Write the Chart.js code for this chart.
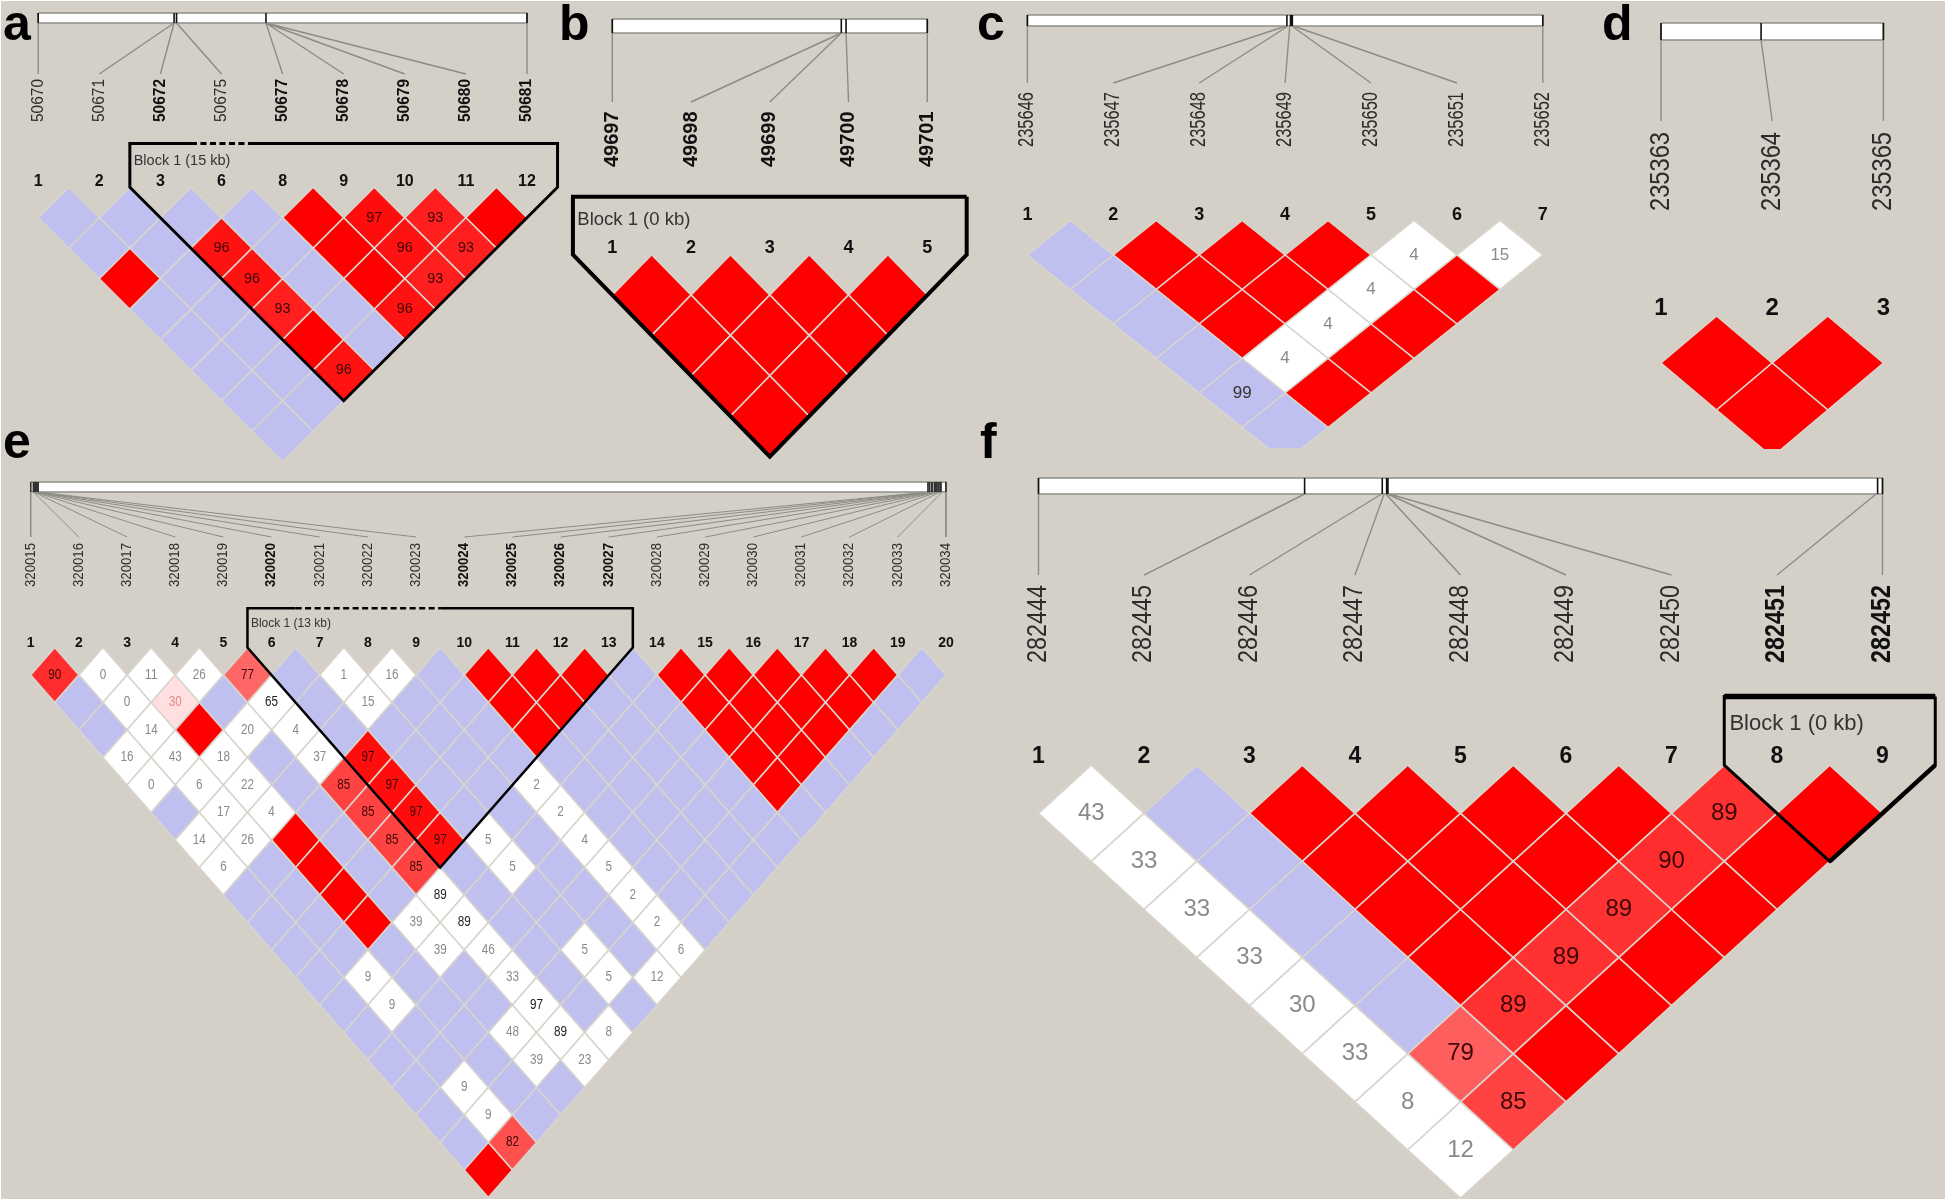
<!DOCTYPE html>
<html><head><meta charset="utf-8">
<style>html,body{margin:0;padding:0;background:#fff;overflow:hidden}canvas{display:block}</style>
<script src="https://cdn.jsdelivr.net/npm/chart.js@4"></script>
</head><body><canvas id="c" width="1946" height="1203"></canvas>
<script>
// ---------- DATA: marker names, marker numbers, physical positions, D' rows, LD class rows ----------
// classes: b = D'=1 low LOD (blue), r = D'=1 high LOD (red), w = low D' low LOD (white), s = D'<1 high LOD (shaded red)
const a_names=['50670','50671','50672','50675','50677','50678','50679','50680','50681'];
const a_bold=['50672','50677','50678','50679','50680','50681'];
const a_numbers=['1','2','3','6','8','9','10','11','12'];
const a_positions=[0,.278,.278,.283,.466,.466,.466,.466,1];
const a_ticks=[0,.278,.283,.466,1];
const a_dprime=[[100,100,100,100,100,97,93,100],[100,100,96,100,100,96,93],[100,100,96,100,100,93],[100,100,93,100,96],[100,100,100,100],[100,100,96],[100,100],[100]];
const a_class=['bbbbrssr','bbsbrss','rbsbrs','bbsbs','bbrb','bbs','bb','b'];
const a_block={start:1.5,end:8.5,dash:[2.5,3.5],label:'Block 1 (15 kb)'};

const b_names=['49697','49698','49699','49700','49701'];
const b_bold=['49697','49698','49699','49700','49701'];
const b_numbers=['1','2','3','4','5'];
const b_positions=[0,.727,.727,.742,1];
const b_ticks=[0,.727,.742,1];
const b_dprime=[[100,100,100,100],[100,100,100],[100,100],[100]];
const b_class=['rrrr','rrr','rr','r'];
const b_block={start:-.5,end:4.5,label:'Block 1 (0 kb)'};

const c_names=['235646','235647','235648','235649','235650','235651','235652'];
const c_bold=[];
const c_numbers=['1','2','3','4','5','6','7'];
const c_positions=[0,.502,.506,.509,.513,.516,1];
const c_ticks=[0,.5035,.5105,.5125,.514,1];
const c_dprime=[[100,100,100,100,4,15],[100,100,100,4,100],[100,100,4,100],[100,4,100],[99,100],[100]];
const c_class=['brrrww','brrwr','brwr','bwr','br','b'];

const d_names=['235363','235364','235365'];
const d_bold=[];
const d_numbers=['1','2','3'];
const d_positions=[0,.45,1];
const d_ticks=[0,.45,1];
const d_dprime=[[100,100],[100]];
const d_class=['rr','r'];

const e_names=['320015','320016','320017','320018','320019','320020','320021','320022','320023','320024','320025','320026','320027','320028','320029','320030','320031','320032','320033','320034'];
const e_bold=['320020','320024','320025','320026','320027'];
const e_numbers=['1','2','3','4','5','6','7','8','9','10','11','12','13','14','15','16','17','18','19','20'];
const e_positions=[0,.0029,.0035,.004,.0048,.0055,.0062,.007,.0083,.9804,.982,.984,.9855,.9875,.9885,.99,.9915,.9935,.996,1];
const e_ticks=[0,.0029,.0035,.004,.0048,.0055,.0062,.007,.0083,.9804,.982,.984,.9855,.9875,.9885,.99,.9915,.9935,.9946,1];
const e_dprime=[
[90,0,11,26,77,100,1,16,100,100,100,100,100,100,100,100,100,100,100],
[100,0,30,100,65,100,15,100,100,100,100,100,100,100,100,100,100,100],
[100,14,100,20,4,100,100,100,100,100,100,100,100,100,100,100,100],
[16,43,18,100,37,97,100,100,100,100,100,100,100,100,100,100],
[0,6,22,100,85,97,100,100,2,100,100,100,100,100,100],
[100,17,4,100,85,97,100,100,2,100,100,100,100,100],
[14,26,100,100,85,97,5,100,4,100,100,100,100],
[6,100,100,100,85,100,5,100,5,100,100,100],
[100,100,100,100,89,100,100,100,2,100,100],
[100,100,100,39,89,100,100,100,2,100],
[100,100,100,39,46,100,5,100,6],
[100,9,100,100,33,100,5,12],
[100,9,100,100,97,100,100],
[100,100,100,48,89,8],
[100,100,100,39,23],
[100,9,100,100],
[100,9,100],
[100,82],
[100]];
const e_class=['swwwsbwwbrrrbrrrrrb','bwsbwbwbbrrbbrrrrb','bwrwwbbbbrbbbrrrb','wwwbwsbbbbbbbrrb','wwwbssbbwbbbbrb','bwwbssbbwbbbbb','wwrbsswbwbbbb','wbrbsbwbwbbb','bbrbwbbbwbb','bbrwwbbbwb','bbbwwbwbw','bwbbwbww','bwbbwbb','bbbwww','bbbww','bwbb','bwb','bs','r'];
const e_block={start:4.5,end:12.5,dash:[5.5,8.5],label:'Block 1 (13 kb)'};

const f_names=['282444','282445','282446','282447','282448','282449','282450','282451','282452'];
const f_bold=['282451','282452'];
const f_numbers=['1','2','3','4','5','6','7','8','9'];
const f_positions=[0,.3153,.4065,.4095,.4115,.4135,.4155,.9925,1];
const f_ticks=[0,.3153,.4073,.4125,.4135,.414,.9942,1];
const f_dprime=[[43,100,100,100,100,100,89,100],[33,100,100,100,100,90,100],[33,100,100,100,89,100],[33,100,100,89,100],[30,100,89,100],[33,79,100],[8,85],[12]];
const f_class=['wbrrrrsr','wbrrrsr','wbrrsr','wbrsr','wbsr','wsr','ws','w'];
const f_block={start:6.5,end:8.5,label:'Block 1 (0 kb)'};

// ---------- LAYOUT (page pixels) and STYLE ----------
const BG='#d4d0c8', GRID='#d8d5cd', BLUE='#c0c0f0', RED='#ff0000', LEAD='#8c8c86';
const W=1946,H=1203;
const panels=[
 {id:'a',names:a_names,bold:a_bold,numbers:a_numbers,pos:a_positions,ticks:a_ticks,dp:a_dprime,cls:a_class,block:a_block,
  x0:38.2,dx:61.1,y0:217.7,dy:30.5,barTop:13,barBot:23,leadEnd:74,nameBot:122,nameLen:43,nameFont:16,numFont:16,cellFont:15,cellW:16,blockLW:3,blockFont:14.5,letter:[3,40]},
 {id:'b',names:b_names,bold:b_bold,numbers:b_numbers,pos:b_positions,ticks:b_ticks,dp:b_dprime,cls:b_class,block:b_block,
  x0:612.3,dx:78.75,y0:295,dy:40.4,barTop:19,barBot:33,leadEnd:102,nameBot:167,nameLen:56,nameFont:20,numFont:18,cellFont:15,cellW:16,blockLW:4,blockFont:18.5,letter:[559,40]},
 {id:'c',names:c_names,bold:c_bold,numbers:c_numbers,pos:c_positions,ticks:c_ticks,dp:c_dprime,cls:c_class,clipBottom:448,
  x0:1027.4,dx:85.9,y0:255,dy:34.5,barTop:15,barBot:26,leadEnd:83,nameBot:147,nameLen:55,nameFont:22,numFont:18,cellFont:17,cellW:22,letter:[977,40]},
 {id:'d',names:d_names,bold:d_bold,numbers:d_numbers,pos:d_positions,ticks:d_ticks,dp:d_dprime,cls:d_class,clipBottom:449,
  x0:1661,dx:111.2,y0:363,dy:47,barTop:23,barBot:40,leadEnd:121,nameBot:211,nameLen:79,nameFont:28,numFont:24,cellFont:17,cellW:22,letter:[1602,40]},
 {id:'e',names:e_names,bold:e_bold,numbers:e_numbers,pos:e_positions,ticks:e_ticks,dp:e_dprime,cls:e_class,block:e_block,
  x0:30.7,dx:48.17,y0:675,dy:27.5,barTop:482,barBot:492,leadEnd:537,nameBot:587,nameLen:44,nameFont:14,numFont:14,cellFont:14,cellW:13,blockLW:2.5,blockFont:12,letter:[3,458],thin:true},
 {id:'f',names:f_names,bold:f_bold,numbers:f_numbers,pos:f_positions,ticks:f_ticks,dp:f_dprime,cls:f_class,block:f_block,
  x0:1038.5,dx:105.5,y0:813.3,dy:48.1,barTop:478,barBot:494,leadEnd:575,nameBot:663,nameLen:78,nameFont:27,numFont:23,cellFont:24,cellW:27,blockLW:3,blockHeavyLW:5.5,blockFont:22,letter:[980,458]}
];
const BLOCK_TOP=-2.43, BLOCK_SHOULDER=-1, NUM_ROW=-1.17, BLOCK_LABEL_ROW=-1.86;

function cellColor(cls,dp){
  if(cls==='b')return BLUE;
  if(cls==='r')return RED;
  if(cls==='w')return '#ffffff';
  const k=Math.round(Math.min(223,446*(1-dp/100)));
  return `rgb(255,${k},${k})`;
}
function labelColor(cls,dp){
  if(cls==='s')return dp<50?'#e48a8a':'#3c0808';
  if(cls==='b')return '#333333';
  return dp>=60?'#222222':'#8a8a8a';
}

// Diamond-cell controller: anisotropic rhombus per data point, sized from the scales
class LDCellController extends Chart.ScatterController{
  draw(){
    const meta=this._cachedMeta,ctx=this.chart.ctx,xs=meta.xScale,ys=meta.yScale;
    const hw=Math.abs(xs.getPixelForValue(.5)-xs.getPixelForValue(0));
    const hh=Math.abs(ys.getPixelForValue(1)-ys.getPixelForValue(0));
    ctx.save();
    for(const el of meta.data){
      const o=el.options;
      ctx.beginPath();
      ctx.moveTo(el.x,el.y-hh);ctx.lineTo(el.x+hw,el.y);ctx.lineTo(el.x,el.y+hh);ctx.lineTo(el.x-hw,el.y);ctx.closePath();
      ctx.fillStyle=o.backgroundColor;ctx.fill();
      ctx.lineWidth=o.borderWidth;ctx.strokeStyle=o.borderColor;ctx.stroke();
    }
    ctx.restore();
  }
}
LDCellController.id='ldcell';
LDCellController.defaults={...Chart.ScatterController.defaults};
LDCellController.overrides=Chart.ScatterController.overrides;
Chart.register(LDCellController);

const scales={yPage:{type:'linear',axis:'y',display:false,min:0,max:H,reverse:true,bounds:'data'}};
const datasets=[];
function line(p,pts,extra){
  datasets.push(Object.assign({type:'line',xAxisID:'x'+p.id,yAxisID:extra.yAxisID||'yPage',data:pts,pointRadius:0,tension:0,fill:false,spanGaps:false,clip:false,parsing:true,normalized:false,borderCapStyle:'butt',borderJoinStyle:'miter'},extra));
}
const GAP={x:NaN,y:NaN};
for(const p of panels){
  scales['x'+p.id]={type:'linear',axis:'x',display:false,bounds:'data',min:-p.x0/p.dx,max:(W-p.x0)/p.dx};
  scales['y'+p.id]={type:'linear',axis:'y',display:false,bounds:'data',reverse:true,min:-p.y0/p.dy,max:(H-p.y0)/p.dy};
  const n=p.names.length,last=n-1;
  // LD cells
  const pts=[],fills=[];
  p.dp.forEach((row,r)=>row.forEach((v,c)=>{
    pts.push({x:c+(r+1)/2,y:r,v});fills.push(cellColor(p.cls[r][c],v));
  }));
  const ds={type:'ldcell',label:p.id+' LD',xAxisID:'x'+p.id,yAxisID:'y'+p.id,data:pts,pointBackgroundColor:fills,pointBorderColor:GRID,pointBorderWidth:1.6,pointRadius:0,order:6};
  ds.clip=p.clipBottom?{left:0,right:0,top:0,bottom:p.clipBottom-H}:false;
  datasets.push(ds);
  // chromosome bar
  line(p,[{x:0,y:p.barTop},{x:last,y:p.barTop},{x:last,y:p.barBot},{x:0,y:p.barBot},{x:0,y:p.barTop}],{label:p.id+' bar',borderColor:'#8f8f88',borderWidth:1.5,backgroundColor:'#ffffff',fill:'shape',order:4});
  // bar ticks
  const tk=[];p.ticks.forEach(f=>{tk.push({x:f*last,y:p.barTop},{x:f*last,y:p.barBot},GAP)});
  line(p,tk,{label:p.id+' ticks',borderColor:p.thin?'#333333':'#111111',borderWidth:p.thin?1:1.6,order:3});
  // leaders
  const ld=[];p.pos.forEach((f,i)=>{ld.push({x:f*last,y:p.barBot},{x:i,y:p.leadEnd},GAP)});
  line(p,ld,{label:p.id+' leaders',borderColor:LEAD,borderWidth:p.thin?1:1.4,order:5});
  // haplotype block outline
  if(p.block){
    const b=p.block,mid=(b.start+b.end)/2,apex=b.end-b.start-1,yid='y'+p.id;
    const ring=[{x:b.end,y:BLOCK_TOP},{x:b.end,y:BLOCK_SHOULDER},{x:mid,y:apex},{x:b.start,y:BLOCK_SHOULDER},{x:b.start,y:BLOCK_TOP}];
    if(b.dash){
      line(p,[{x:b.dash[1],y:BLOCK_TOP},...ring,{x:b.dash[0],y:BLOCK_TOP}],{label:p.id+' block',yAxisID:yid,borderColor:'#000',borderWidth:p.blockLW,order:1});
      line(p,[{x:b.dash[0],y:BLOCK_TOP},{x:b.dash[1],y:BLOCK_TOP}],{label:p.id+' block dash',yAxisID:yid,borderColor:'#000',borderWidth:p.blockLW,borderDash:[6,3.5],order:1});
    }else{
      line(p,[...ring,{x:b.end,y:BLOCK_TOP}],{label:p.id+' block',yAxisID:yid,borderColor:'#000',borderWidth:p.blockLW,order:1});
    }
    if(p.blockHeavyLW){
      line(p,[{x:b.start,y:BLOCK_TOP},{x:b.end,y:BLOCK_TOP}],{label:p.id+' block top',yAxisID:yid,borderColor:'#000',borderWidth:p.blockHeavyLW,order:1});
      line(p,[{x:b.end,y:BLOCK_SHOULDER},{x:mid,y:apex}],{label:p.id+' block right',yAxisID:yid,borderColor:'#000',borderWidth:p.blockHeavyLW-1,order:1});
    }
  }
}

const textPlugin={
  id:'ldText',
  beforeDraw(ch){
    const c=ch.ctx;c.save();c.fillStyle='#ffffff';c.fillRect(0,0,W,H);c.fillStyle=BG;c.fillRect(1,1,W-2,H-5);c.restore();
  },
  afterDatasetsDraw(ch){
    const c=ch.ctx;
    c.save();
    for(const p of panels){
      const xs=ch.scales['x'+p.id],ys=ch.scales['y'+p.id];
      // panel letter
      c.fillStyle='#000';c.font='bold 50px "Liberation Sans"';c.textAlign='left';c.textBaseline='alphabetic';
      c.fillText(p.id,p.letter[0],p.letter[1]);
      // rotated marker names
      p.names.forEach((s,i)=>{
        const b=p.bold.includes(s);
        c.save();c.translate(xs.getPixelForValue(i),p.nameBot);c.rotate(-Math.PI/2);
        c.font=(b?'bold ':'')+p.nameFont+'px "Liberation Sans"';
        c.fillStyle=b?'#111':'#2c2c2c';c.textAlign='left';c.textBaseline='middle';
        c.fillText(s,0,0,p.nameLen);c.restore();
      });
      // marker numbers
      c.font='bold '+p.numFont+'px "Liberation Sans"';c.fillStyle='#111';c.textAlign='center';c.textBaseline='middle';
      p.numbers.forEach((s,i)=>c.fillText(s,xs.getPixelForValue(i),ys.getPixelForValue(NUM_ROW)));
      // block label
      if(p.block){
        c.font=p.blockFont+'px "Liberation Sans"';c.fillStyle='#333';c.textAlign='left';
        c.fillText(p.block.label,xs.getPixelForValue(p.block.start)+p.dx*.03+2,ys.getPixelForValue(BLOCK_LABEL_ROW));
      }
      // D' labels
      c.font=p.cellFont+'px "Liberation Sans"';c.textAlign='center';c.textBaseline='middle';
      p.dp.forEach((row,r)=>row.forEach((v,i)=>{
        if(v>=100)return;
        const s=String(v);
        c.fillStyle=labelColor(p.cls[r][i],v);
        c.fillText(s,xs.getPixelForValue(i+(r+1)/2),ys.getPixelForValue(r),s.length*p.cellW/2);
      }));
    }
    c.restore();
  }
};

new Chart(document.getElementById('c'),{
  type:'line',
  data:{datasets},
  options:{
    responsive:false,animation:false,devicePixelRatio:1,
    layout:{padding:0},
    events:[],
    plugins:{legend:{display:false},tooltip:{enabled:false},title:{display:false}},
    scales
  },
  plugins:[textPlugin]
});
</script></body></html>
